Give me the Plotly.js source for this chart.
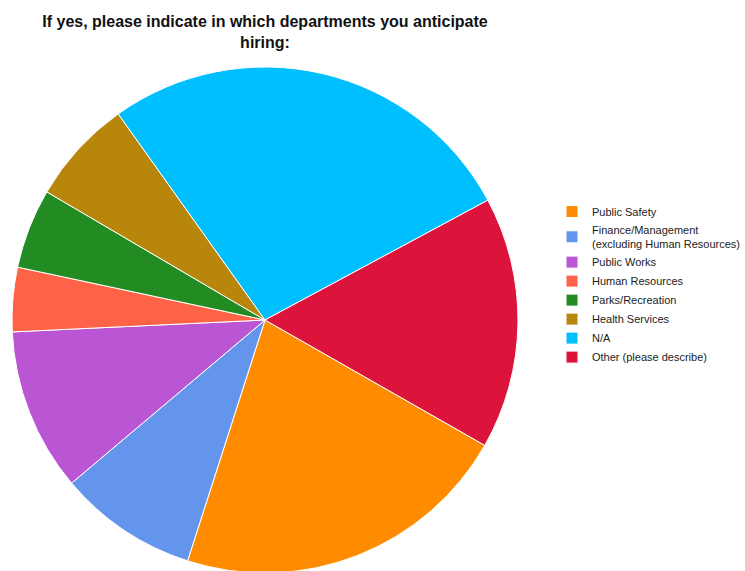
<!DOCTYPE html>
<html>
<head>
<meta charset="utf-8">
<script src="https://cdn.plot.ly/plotly-3.0.1.min.js"></script>
<style>html,body{margin:0;padding:0;overflow:hidden;background:#fff;}#chart{width:745px;height:576px;}</style>
</head>
<body>
<div id="chart"></div>
<script>
const categories = ["Public Safety", "Finance/Management<br>(excluding Human Resources)", "Public Works", "Human Resources", "Parks/Recreation", "Health Services", "N/A", "Other (please describe)"];
const values = [21.7, 8.9, 10.4, 4.1, 5.1, 6.7, 27.0, 16.1];
const colors = ["#FF8C00", "#6495ED", "#BA55D3", "#FF6347", "#228B22", "#B8860B", "#00BFFF", "#DC143C"];

const W = 745, H = 576;
const data = [{
  type: "pie",
  labels: categories,
  values: values,
  sort: false,
  direction: "clockwise",
  rotation: 119.7,
  textinfo: "none",
  hoverinfo: "label+percent",
  marker: {colors: colors, line: {color: "#ffffff", width: 1}},
  domain: {x: [12 / W, 518 / W], y: [3 / H, 509 / H]}
}];
const layout = {
  width: W, height: H,
  margin: {l: 0, r: 0, t: 0, b: 0},
  paper_bgcolor: "#ffffff",
  title: {
    text: "<b>If yes, please indicate in which departments you anticipate<br>hiring:</b>",
    font: {family: "Liberation Sans, Arial, sans-serif", size: 16, color: "#111111"},
    x: 265 / W, xanchor: "center",
    y: 1 - 27 / H, yanchor: "middle"
  },
  showlegend: true,
  legend: {
    x: 552 / W, xanchor: "left",
    y: 1 - 197 / H, yanchor: "top",
    font: {family: "Liberation Sans, Arial, sans-serif", size: 11, color: "#222222"},
    bgcolor: "rgba(0,0,0,0)", borderwidth: 0
  }
};
Plotly.newPlot("chart", data, layout, {displayModeBar: false, staticPlot: true});
</script>
</body>
</html>
